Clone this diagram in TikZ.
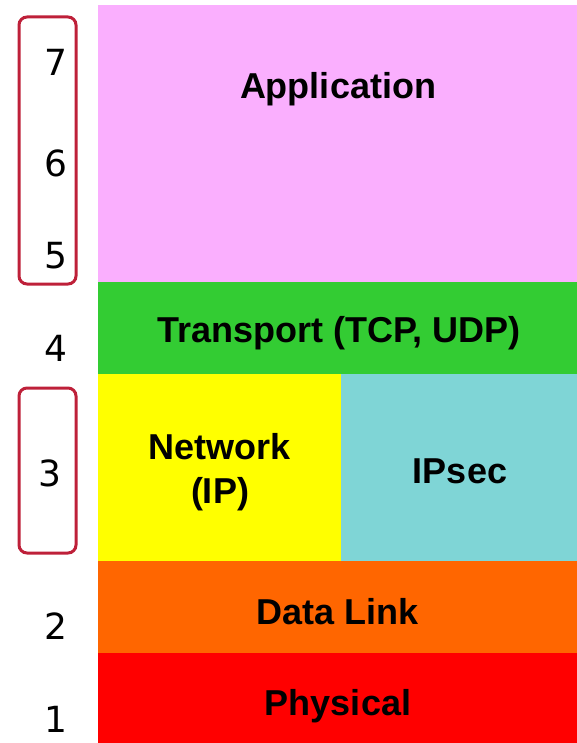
\documentclass[tikz,border=0pt]{standalone}
\usepackage{fontspec}
\setmainfont{Liberation Sans}
\newfontfamily\numfont{DejaVu Sans}
\definecolor{appcol}{HTML}{FAAFFE}
\definecolor{transcol}{HTML}{33CC33}
\definecolor{netcol}{HTML}{FFFF00}
\definecolor{ipseccol}{HTML}{7FD5D6}
\definecolor{linkcol}{HTML}{FF6600}
\definecolor{physcol}{HTML}{FF0000}
\definecolor{bracecol}{HTML}{BE2039}
\begin{document}
\begin{tikzpicture}[x=1pt,y=-1pt,
  layer/.style={inner sep=0pt, outer sep=0pt, font=\fontsize{36}{44}\selectfont\bfseries, align=center},
  num/.style={font=\numfont\fontsize{36}{40}\selectfont, inner sep=0pt},
  group/.style={draw=bracecol, line width=3pt, rounded corners=8pt}
]
\useasboundingbox (0,0) rectangle (577,743);

% protocol layers
\fill[appcol]   (98,5)   rectangle (577,282);
\fill[transcol] (98,282) rectangle (577,374);
\fill[netcol]   (98,374) rectangle (341,561);
\fill[ipseccol] (341,374) rectangle (577,561);
\fill[linkcol]  (98,561) rectangle (577,653);
\fill[physcol]  (98,653) rectangle (577,743);

\node[layer] (app)   at (338,89)  {Application};
\node[layer] (trans) at (339,333) {Transport (TCP, UDP)};
\node[layer] (net)   at (220,472) {Network\\(IP)};
\node[layer] (ipsec) at (460,471) {IPsec};
\node[layer] (link)  at (338,612) {Data Link};
\node[layer] (phys)  at (338,706) {Physical};

% OSI layer numbers
\node[num] (n7) at (56,62)  {7};
\node[num] (n6) at (56,163) {6};
\node[num] (n5) at (56,256) {5};
\node[num] (n4) at (56,348) {4};
\node[num] (n3) at (50,473) {3};
\node[num] (n2) at (56,626) {2};
\node[num] (n1) at (56,719) {1};

% group brackets
\draw[group] (19,17) rectangle (76,284);
\draw[group] (19,388) rectangle (76,553);
\end{tikzpicture}
\end{document}
